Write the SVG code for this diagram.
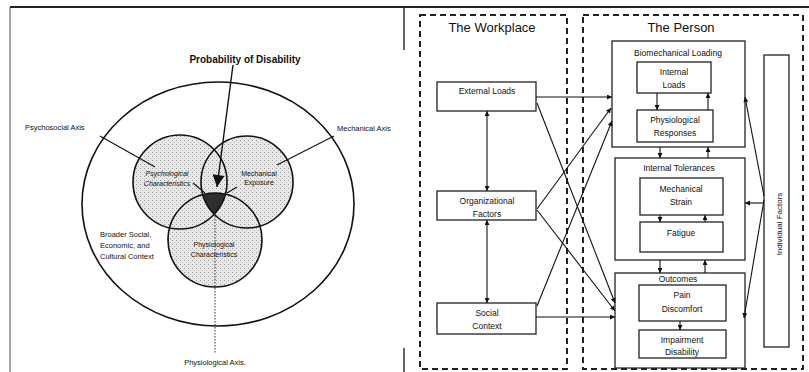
<svg xmlns="http://www.w3.org/2000/svg" width="809" height="372" viewBox="0 0 809 372">
<defs>
<style>
text{font-family:"Liberation Sans",Arial,sans-serif;fill:#111}
.sm{font-size:7.5px}
.it{font-size:7px;font-style:italic}
.lb{font-size:8.5px;text-anchor:middle}
.tt{font-size:13px;text-anchor:middle}
.bx{fill:#fff;stroke:#222;stroke-width:1.3}
.dash{fill:none;stroke:#222;stroke-width:2;stroke-dasharray:6 4}
.ln{fill:none;stroke:#111;stroke-width:1.1}
.circ{fill:none;stroke:#111;stroke-width:1.6}
</style>
<pattern id="stip" width="4" height="4" patternUnits="userSpaceOnUse">
<rect width="4" height="4" fill="#e8e8e8"/>
<rect x="0" y="0" width="1" height="1" fill="#9a9a9a"/>
<rect x="2" y="2" width="1" height="1" fill="#b8b8b8"/>
</pattern>
<marker id="ah" viewBox="0 0 10 10" refX="10" refY="5" markerWidth="6" markerHeight="5" markerUnits="userSpaceOnUse" orient="auto-start-reverse">
<path d="M0,0 L10,5 L0,10 z" fill="#111"/>
</marker>
<marker id="big" viewBox="0 0 10 10" refX="10" refY="5" markerWidth="13" markerHeight="12" markerUnits="userSpaceOnUse" orient="auto">
<path d="M0,0 L10,5 L0,10 z" fill="#111"/>
</marker>
<clipPath id="cpPsy"><circle cx="180" cy="182" r="47"/></clipPath>
<clipPath id="cpMech"><circle cx="247" cy="182" r="46"/></clipPath>
</defs>
<rect width="809" height="372" fill="#fff"/>

<g id="frame">
<line x1="10" y1="7" x2="809" y2="7" stroke="#222" stroke-width="2"/>
<line x1="10" y1="7" x2="10" y2="372" stroke="#555" stroke-width="1"/>
<line x1="404" y1="7" x2="404" y2="50" stroke="#333" stroke-width="1.5"/>
<line x1="404" y1="348" x2="404" y2="372" stroke="#333" stroke-width="1.5"/>
</g>

<!-- LEFT PANEL -->
<g id="context-circle">
<ellipse cx="218" cy="204" rx="136" ry="122" class="circ"/>
</g>
<g id="venn-fills">
<circle cx="180" cy="182" r="47" fill="url(#stip)"/>
<circle cx="247" cy="182" r="46" fill="url(#stip)"/>
<circle cx="215" cy="240" r="47" fill="url(#stip)"/>
<g clip-path="url(#cpPsy)"><g clip-path="url(#cpMech)"><circle cx="215" cy="240" r="47" fill="#2e2e2e"/></g></g>
</g>
<g id="psychological">
<circle cx="180" cy="182" r="47" class="circ"/>
<text class="it" x="167" y="176" text-anchor="middle">Psychological</text>
<text class="it" x="167" y="186" text-anchor="middle">Characteristics</text>
</g>
<g id="mechanical">
<circle cx="247" cy="182" r="46" class="circ"/>
<text class="sm" x="259" y="176" text-anchor="middle" style="font-size:7px">Mechanical</text>
<text class="sm" x="259" y="185" text-anchor="middle" style="font-size:7px">Exposure</text>
</g>
<g id="physiological">
<circle cx="215" cy="240" r="47" class="circ"/>
<text class="sm" x="214" y="247" text-anchor="middle" style="font-size:7px">Physiological</text>
<text class="sm" x="214" y="257" text-anchor="middle" style="font-size:7px">Characteristics</text>
</g>
<g id="left-labels">
<text x="245" y="63" text-anchor="middle" style="font-size:10px;font-weight:bold">Probability of Disability</text>
<text class="sm" x="25" y="130">Psychosocial Axis</text>
<text class="sm" x="337" y="131">Mechanical Axis</text>
<text class="sm" x="215" y="365" text-anchor="middle">Physiological Axis.</text>
<text class="sm" x="100" y="237">Broader Social,</text>
<text class="sm" x="100" y="248">Economic, and</text>
<text class="sm" x="100" y="259">Cultural Context</text>
</g>
<g id="left-connectors">
<line x1="233" y1="65" x2="217" y2="187" stroke="#111" stroke-width="1.4" marker-end="url(#big)"/>
<line x1="100" y1="136" x2="155" y2="167" class="ln"/>
<line x1="334" y1="136" x2="277" y2="165" class="ln"/>
<line x1="215" y1="213" x2="215" y2="353" stroke="#333" stroke-width="1" stroke-dasharray="1.5 1.5"/>
<line x1="193" y1="183" x2="205" y2="193" class="ln"/>
<line x1="237" y1="187" x2="227" y2="193" class="ln"/>
</g>

<!-- RIGHT PANEL -->
<g id="workplace">
<rect x="420" y="15" width="147" height="354" class="dash"/>
<text class="tt" x="492" y="32">The Workplace</text>
</g>
<g id="person">
<rect x="583" y="15" width="220" height="354" class="dash"/>
<text class="tt" x="681" y="32">The Person</text>
</g>
<g id="external-loads">
<rect x="437" y="82" width="99" height="29" class="bx"/>
<text class="lb" x="487" y="94">External Loads</text>
</g>
<g id="organizational-factors">
<rect x="437" y="191" width="99" height="29" class="bx"/>
<text class="lb" x="487" y="204">Organizational</text>
<text class="lb" x="487" y="217">Factors</text>
</g>
<g id="social-context">
<rect x="437" y="303" width="99" height="31" class="bx"/>
<text class="lb" x="487" y="316">Social</text>
<text class="lb" x="487" y="329">Context</text>
</g>
<g id="biomechanical-loading">
<rect x="612" y="41" width="133" height="106" class="bx"/>
<text class="lb" x="678" y="56">Biomechanical Loading</text>
</g>
<g id="internal-loads">
<rect x="637" y="62" width="74" height="31" class="bx"/>
<text class="lb" x="674" y="75">Internal</text>
<text class="lb" x="674" y="88">Loads</text>
</g>
<g id="physiological-responses">
<rect x="637" y="110" width="76" height="32" class="bx"/>
<text class="lb" x="675" y="123">Physiological</text>
<text class="lb" x="675" y="136">Responses</text>
</g>
<g id="internal-tolerances">
<rect x="615" y="158" width="130" height="102" class="bx"/>
<text class="lb" x="679" y="171">Internal Tolerances</text>
</g>
<g id="mechanical-strain">
<rect x="640" y="178" width="83" height="37" class="bx"/>
<text class="lb" x="681" y="192">Mechanical</text>
<text class="lb" x="681" y="205">Strain</text>
</g>
<g id="fatigue">
<rect x="640" y="222" width="83" height="30" class="bx"/>
<text class="lb" x="681" y="236">Fatigue</text>
</g>
<g id="outcomes">
<rect x="615" y="273" width="130" height="95" class="bx"/>
<text class="lb" x="678" y="282">Outcomes</text>
</g>
<g id="pain-discomfort">
<rect x="639" y="285" width="87" height="36" class="bx"/>
<text class="lb" x="682" y="298">Pain</text>
<text class="lb" x="682" y="312">Discomfort</text>
</g>
<g id="impairment-disability">
<rect x="639" y="330" width="87" height="28" class="bx"/>
<text class="lb" x="682" y="343">Impairment</text>
<text class="lb" x="682" y="355">Disability</text>
</g>
<g id="individual-factors">
<rect x="764" y="55" width="25" height="292" class="bx"/>
<text class="lb" x="0" y="0" transform="translate(782,224) rotate(-90)" style="font-size:8px">Individual Factors</text>
</g>

<g id="connectors" class="ln" marker-end="url(#ah)">
<line x1="536" y1="97" x2="612" y2="97"/>
<line x1="537" y1="103" x2="615" y2="303"/>
<line x1="537" y1="209" x2="611" y2="108"/>
<line x1="537" y1="210" x2="615" y2="311"/>
<line x1="537" y1="306" x2="612" y2="121"/>
<line x1="536" y1="317" x2="615" y2="317"/>
<line x1="487" y1="111" x2="487" y2="191" marker-start="url(#ah)"/>
<line x1="487" y1="220" x2="487" y2="303" marker-start="url(#ah)"/>
<line x1="657" y1="93" x2="657" y2="110"/>
<line x1="708" y1="110" x2="708" y2="93"/>
<line x1="660" y1="147" x2="660" y2="158"/>
<line x1="708" y1="158" x2="708" y2="147"/>
<line x1="660" y1="215" x2="660" y2="222"/>
<line x1="705" y1="222" x2="705" y2="215"/>
<line x1="660" y1="260" x2="660" y2="273"/>
<line x1="705" y1="273" x2="705" y2="260"/>
<line x1="680" y1="321" x2="680" y2="330"/>
<line x1="764" y1="196" x2="745" y2="97"/>
<line x1="764" y1="203" x2="745" y2="203"/>
<line x1="764" y1="200" x2="744" y2="318"/>
</g>
</svg>
